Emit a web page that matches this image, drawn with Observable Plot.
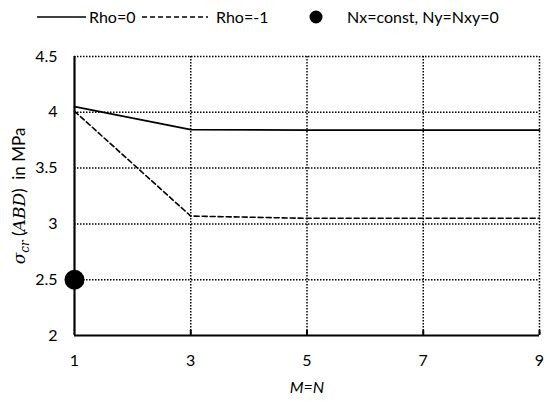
<!DOCTYPE html>
<html>
<head>
<meta charset="utf-8">
<script src="https://cdn.jsdelivr.net/npm/d3@7"></script>
<script src="https://cdn.jsdelivr.net/npm/@observablehq/plot@0.6"></script>
<style>
  body { margin: 0; background: #fff; font-family: Lato, "Open Sans", sans-serif; }
  #wrap { width: 550px; height: 402px; position: relative; }
  svg { display: block; }
</style>
</head>
<body>
<div id="wrap"></div>
<script>
const mn = [1, 3, 5, 7, 9];
const rho0 = [4.05, 3.845, 3.84, 3.84, 3.84];
const rhoM1 = [4.01, 3.07, 3.05, 3.05, 3.05];
const pointX = [1];
const pointY = [2.5];
const seriesNames = ["Rho=0", "Rho=-1", "Nx=const, Ny=Nxy=0"];
const yTicks = [2, 2.5, 3, 3.5, 4, 4.5];
const xTicks = [1, 3, 5, 7, 9];

const lineData = [
  ...mn.map((x, i) => ({x, y: rho0[i], s: seriesNames[0]})),
  ...mn.map((x, i) => ({x, y: rhoM1[i], s: seriesNames[1]}))
];
const pts = pointX.map((x, i) => ({x, y: pointY[i]}));

const wrap = document.getElementById("wrap");

// Legend
const leg = d3.create("svg").attr("width", 550).attr("height", 30)
  .style("font-family", "Lato, sans-serif").style("font-size", "16px");
const legItems = [
  {name: seriesNames[0], kind: "solid", x0: 37, x1: 86, tx: 89},
  {name: seriesNames[1], kind: "dash", x0: 142, x1: 208, tx: 216},
  {name: seriesNames[2], kind: "dot", x0: 316, x1: 316, tx: 347}
];
const ly = 17;
for (const it of legItems) {
  if (it.kind === "dot") {
    leg.append("circle").attr("cx", it.x0).attr("cy", ly).attr("r", 6.5).attr("fill", "#000");
  } else {
    leg.append("line").attr("x1", it.x0).attr("x2", it.x1).attr("y1", ly).attr("y2", ly)
      .attr("stroke", "#000").attr("stroke-width", 1.6)
      .attr("stroke-dasharray", it.kind === "dash" ? "5,3" : null);
  }
  leg.append("text").attr("x", it.tx).attr("y", ly).attr("dy", "0.35em").attr("fill", "#000").text(it.name);
}
wrap.appendChild(leg.node());

const gridStyle = {stroke: "#000", strokeOpacity: 1, strokeWidth: 1.5, strokeDasharray: "1.5,1.5"};

const chart = Plot.plot({
  width: 550,
  height: 372,
  marginTop: 26,
  marginBottom: 67,
  marginLeft: 74,
  marginRight: 11,
  style: {fontFamily: "Lato, sans-serif", fontSize: "16px", color: "#000", overflow: "visible"},
  x: {type: "linear", domain: [1, 9], ticks: xTicks},
  y: {type: "linear", domain: [2, 4.5], ticks: yTicks},
  marks: [
    Plot.gridX(xTicks.filter(d => d > 1), gridStyle),
    Plot.gridY(yTicks.filter(d => d > 2), gridStyle),
    Plot.axisX(xTicks, {tickSize: 0, tickPadding: 19, tickFormat: d => String(d), label: null}),
    Plot.axisY(yTicks, {tickSize: 0, tickPadding: 17, tickFormat: d => String(d), label: null}),
    Plot.axisX(xTicks.filter(d => d > 1), {tickSize: -5, strokeWidth: 2, text: null, label: null}),
    Plot.ruleY([2], {stroke: "#000", strokeWidth: 2.2}),
    Plot.ruleX([1], {stroke: "#000", strokeWidth: 2.2}),
    Plot.line(lineData.filter(d => d.s === seriesNames[0]), {x: "x", y: "y", stroke: "#000", strokeWidth: 1.8}),
    Plot.line(lineData.filter(d => d.s === seriesNames[1]), {x: "x", y: "y", stroke: "#000", strokeWidth: 1.6, strokeDasharray: "5,3"}),
    Plot.dot(pts, {x: "x", y: "y", r: 10, fill: "#000", stroke: "none", clip: false})
  ]
});
wrap.appendChild(chart);

// Axis titles
const svg = d3.select(chart);
svg.append("text")
  .attr("transform", "translate(19,166) rotate(-90)")
  .attr("text-anchor", "middle")
  .attr("dy", "0.35em")
  .attr("fill", "#000")
  .style("font-size", "17px")
  .call(t => {
    t.append("tspan").style("font-family", "DejaVu Serif, serif").style("font-style", "italic").text("σ");
    t.append("tspan").style("font-family", "DejaVu Serif, serif").style("font-style", "italic").style("font-size", "12px").attr("dy", "4").text("cr");
    t.append("tspan").attr("dy", "-4").text(" (");
    t.append("tspan").style("font-family", "DejaVu Serif, serif").style("font-style", "italic").text("ABD");
    t.append("tspan").text(")  in MPa");
  });
svg.append("text")
  .attr("x", 307).attr("y", 363)
  .attr("text-anchor", "middle")
  .attr("fill", "#000")
  .style("font-style", "italic")
  .style("font-size", "16px")
  .text("M=N");
</script>
</body>
</html>
